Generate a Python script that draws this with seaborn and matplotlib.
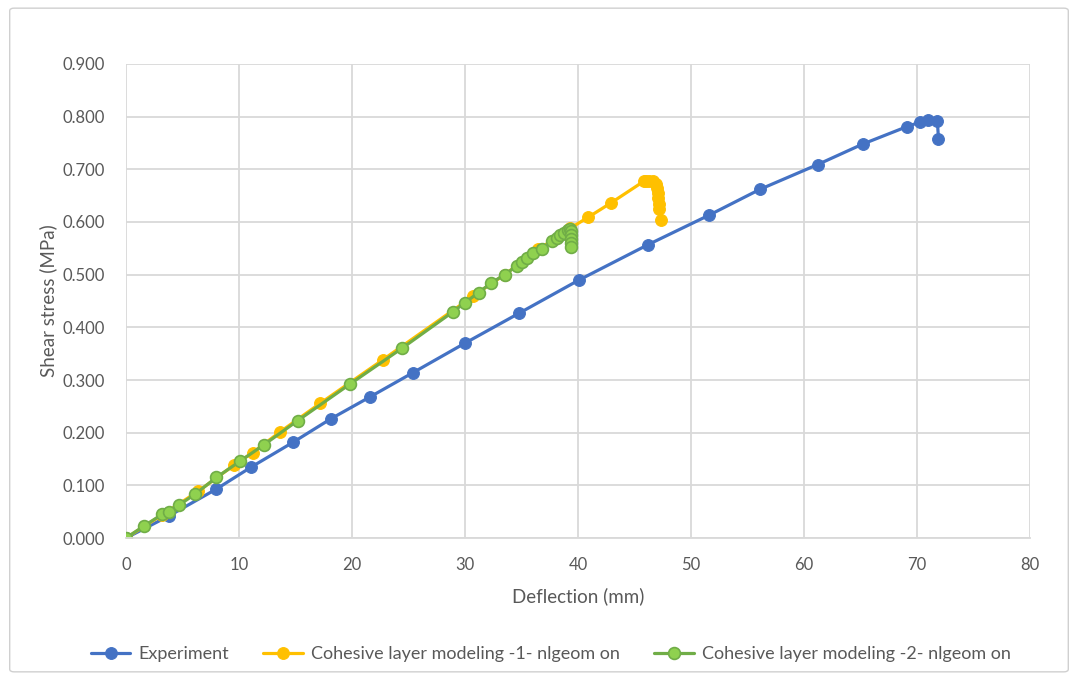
import matplotlib
matplotlib.use("Agg")
import matplotlib.pyplot as plt
from matplotlib.patches import FancyBboxPatch
from matplotlib.ticker import MultipleLocator, FormatStrFormatter
import seaborn as sns

# Experimental shear test
exp_x = [0, 3.8, 8.0, 11.1, 14.8, 18.1, 21.6, 25.4, 30.0, 34.8, 40.1, 46.2,
         51.6, 56.1, 61.2, 65.2, 69.1, 70.3, 71.0, 71.8, 71.9]
exp_y = [0, 0.042, 0.093, 0.135, 0.182, 0.226, 0.268, 0.314, 0.370, 0.427,
         0.490, 0.557, 0.613, 0.662, 0.709, 0.748, 0.781, 0.790, 0.794, 0.791, 0.758]

# Cohesive layer model 1
m1_x = [0, 3.2, 6.4, 9.6, 11.2, 13.6, 17.2, 22.7, 30.7, 33.5, 36.5, 39.3,
        40.9, 42.9, 45.8, 46.0, 46.3, 46.6, 46.9, 47.0, 47.1, 47.1, 47.2, 47.2, 47.3]
m1_y = [0, 0.044, 0.089, 0.139, 0.162, 0.201, 0.256, 0.338, 0.459, 0.500,
        0.548, 0.588, 0.609, 0.636, 0.677, 0.678, 0.678, 0.677, 0.673, 0.665,
        0.655, 0.645, 0.635, 0.625, 0.603]

# Cohesive layer model 2
m2_x = [0, 1.6, 3.2, 3.8, 4.7, 6.1, 8.0, 10.1, 12.2, 15.2, 19.8, 24.4, 28.9,
        30.0, 31.2, 32.3, 33.5, 34.6, 35.0, 35.5, 36.0, 36.8, 37.7, 38.1, 38.4,
        38.8, 39.1, 39.3, 39.4, 39.4, 39.4, 39.4, 39.4]
m2_y = [0, 0.023, 0.045, 0.050, 0.063, 0.083, 0.115, 0.146, 0.177, 0.223,
        0.292, 0.360, 0.429, 0.447, 0.466, 0.484, 0.500, 0.517, 0.524, 0.532,
        0.541, 0.549, 0.563, 0.569, 0.575, 0.580, 0.584, 0.586, 0.583, 0.575,
        0.567, 0.560, 0.553]

labels = ["Experiment",
          "Cohesive layer modeling -1- nlgeom on",
          "Cohesive layer modeling -2- nlgeom on"]

sns.set_theme(style="white")
plt.rcParams["font.family"] = ["Lato", "DejaVu Sans"]

TXT = "#595959"
GRID = "#d9d9d9"

fig = plt.figure(figsize=(10.78, 6.8), dpi=100)
ax = fig.add_axes([0.1169, 0.2088, 0.8386, 0.6971])

# Chart border
fig.patches.append(FancyBboxPatch((0.009, 0.012), 0.982, 0.976,
                                  boxstyle="round,pad=0,rounding_size=0.004",
                                  transform=fig.transFigure, fill=False,
                                  edgecolor="#d0d0d0", linewidth=1.0))

common = dict(sort=False, estimator=None, marker="o", markersize=8.5,
              linewidth=2.3, ax=ax)
sns.lineplot(x=exp_x, y=exp_y, color="#4472C4", markeredgecolor="#4472C4",
             markerfacecolor="#4472C4", label=labels[0], **common)
sns.lineplot(x=m1_x, y=m1_y, color="#FFC000", markeredgecolor="#FFC000",
             markerfacecolor="#FFC000", label=labels[1], **common)
sns.lineplot(x=m2_x, y=m2_y, color="#70AD47", markeredgecolor="#70AD47",
             markerfacecolor="#8fd14f", markeredgewidth=1.2, label=labels[2], **common)

ax.set_xlim(0, 80)
ax.set_ylim(0, 0.9)
ax.xaxis.set_major_locator(MultipleLocator(10))
ax.yaxis.set_major_locator(MultipleLocator(0.1))
ax.yaxis.set_major_formatter(FormatStrFormatter("%.3f"))
ax.grid(True, color=GRID, linewidth=1.3)
ax.set_axisbelow(True)
for s in ["top", "right", "left"]:
    ax.spines[s].set_visible(False)
ax.spines["bottom"].set_color(GRID)
ax.spines["bottom"].set_linewidth(1.3)
ax.tick_params(axis="both", length=0, labelsize=12, colors=TXT)
ax.tick_params(axis="x", pad=14)
ax.tick_params(axis="y", pad=15)

ax.set_xlabel("Deflection (mm)", fontsize=13.5, color=TXT, labelpad=10)
ax.set_ylabel("Shear stress (MPa)", fontsize=13.5, color=TXT, labelpad=4)

leg = ax.legend(loc="center", bbox_to_anchor=(0.47, -0.245), ncol=3,
                frameon=False, fontsize=13, handlelength=2.2,
                columnspacing=1.9, handletextpad=0.45)
for t in leg.get_texts():
    t.set_color(TXT)

fig.savefig("out.png", dpi=100, facecolor="white")
